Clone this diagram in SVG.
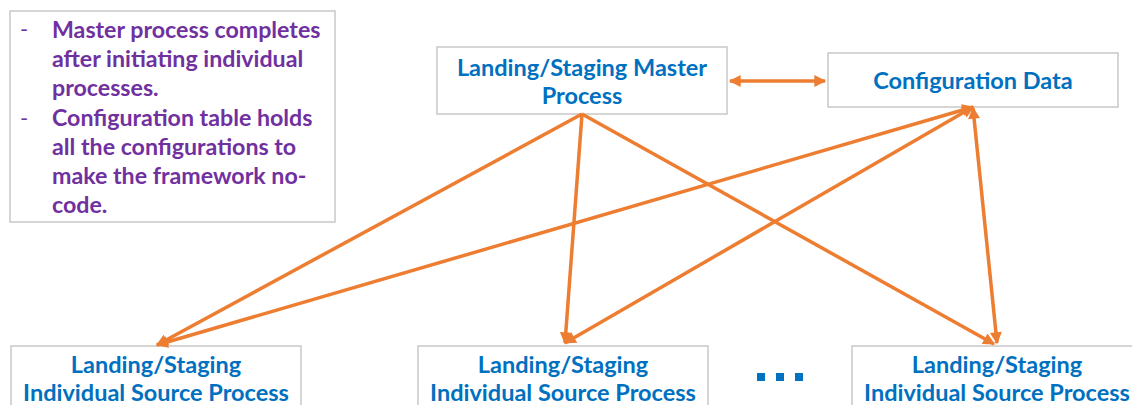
<svg xmlns="http://www.w3.org/2000/svg" width="1132" height="405" viewBox="0 0 1132 405">
<style>
.box{fill:#fff;stroke:#c8c8c8;stroke-width:1.5}
.t{font-family:Lato,"Open Sans","Liberation Sans",sans-serif;font-weight:bold;font-size:23.5px;fill:#0070c0;text-anchor:middle}
.n{font-family:Lato,"Open Sans","Liberation Sans",sans-serif;font-weight:bold;font-size:23.2px;fill:#7030a0}
.d{font-family:Lato,"Open Sans","Liberation Sans",sans-serif;font-size:22px;fill:#7030a0}
.c{stroke:#ed7d31;stroke-width:3.5;fill:none}
</style>
<defs>
<marker id="ah" viewBox="0 0 10 10" refX="9" refY="5" markerWidth="4" markerHeight="3.4" orient="auto-start-reverse" markerUnits="strokeWidth">
<path d="M0,0 L10,5 L0,10 z" fill="#ed7d31"/>
</marker>
</defs>
<g id="note">
<rect class="box" x="10" y="11" width="325" height="211"/>
<text class="d" x="20" y="37">-</text>
<text class="d" x="20" y="126">-</text>
<text class="n" x="52"><tspan x="52" y="38">Master process completes</tspan><tspan x="52" y="67">after initiating individual</tspan><tspan x="52" y="96">processes.</tspan><tspan x="52" y="126">Configuration table holds</tspan><tspan x="52" y="155">all the configurations to</tspan><tspan x="52" y="184">make the framework no-</tspan><tspan x="52" y="213">code.</tspan></text>
</g>
<g id="master">
<rect class="box" x="437" y="47" width="290" height="67"/>
<text class="t" x="582" y="76">Landing/Staging Master</text>
<text class="t" x="582" y="104">Process</text>
</g>
<g id="config">
<rect class="box" x="828" y="53" width="290" height="54"/>
<text class="t" x="973" y="89">Configuration Data</text>
</g>
<g id="src1">
<rect class="box" x="11" y="346" width="290" height="70"/>
<text class="t" x="156" y="373">Landing/Staging</text>
<text class="t" x="156" y="401">Individual Source Process</text>
</g>
<g id="src2">
<rect class="box" x="418" y="346" width="290" height="70"/>
<text class="t" x="563" y="373">Landing/Staging</text>
<text class="t" x="563" y="401">Individual Source Process</text>
</g>
<g id="ellipsis" fill="#0070c0">
<rect x="757" y="373" width="8" height="8"/>
<rect x="776" y="373" width="8" height="8"/>
<rect x="795" y="373" width="8" height="8"/>
</g>
<g id="src3">
<rect class="box" x="852" y="346" width="290" height="70"/>
<text class="t" x="997" y="373">Landing/Staging</text>
<text class="t" x="997" y="401">Individual Source Process</text>
</g>
<g id="connectors">
<line class="c" x1="730" y1="81" x2="825" y2="81" marker-start="url(#ah)" marker-end="url(#ah)"/>
<line class="c" x1="582" y1="114" x2="157" y2="345" marker-end="url(#ah)"/>
<line class="c" x1="582" y1="114" x2="565" y2="343" marker-end="url(#ah)"/>
<line class="c" x1="582" y1="114" x2="994" y2="344" marker-end="url(#ah)"/>
<line class="c" x1="973" y1="107" x2="157" y2="345" marker-start="url(#ah)" marker-end="url(#ah)"/>
<line class="c" x1="973" y1="107" x2="565" y2="343" marker-start="url(#ah)" marker-end="url(#ah)"/>
<line class="c" x1="973" y1="108" x2="997" y2="343" marker-start="url(#ah)" marker-end="url(#ah)"/>
</g>
</svg>
